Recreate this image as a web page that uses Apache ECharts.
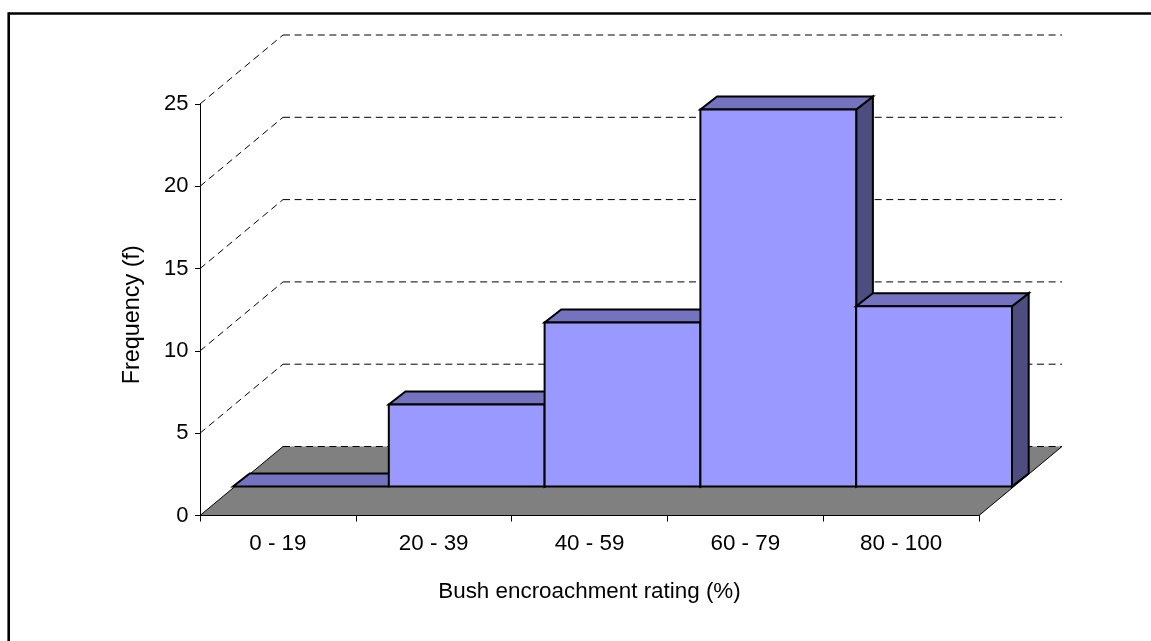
<!DOCTYPE html>
<html>
<head>
<meta charset="utf-8">
<script src="https://cdn.jsdelivr.net/npm/echarts@6/dist/echarts.min.js"></script>
<style>html,body{margin:0;padding:0;background:#fff}#c{width:1151px;height:641px}</style>
</head>
<body>
<div id="c"></div>
<script>
var categories = ['0 - 19', '20 - 39', '40 - 59', '60 - 79', '80 - 100'];
var frequency = [0, 5, 10, 23, 11];
var yTicks = [0, 5, 10, 15, 20, 25];
var xTitle = 'Bush encroachment rating (%)';
var yTitle = 'Frequency (f)';

var WALL = [83, -69];
var BAR_FRONT = [33, -29];
var BAR_DEPTH = [16.7, -13];
var BAR_SCALE = 0.996;
var FONT = '"Liberation Sans", Arial, sans-serif';

function poly(points, fill, stroke, width) {
  return { type: 'polygon', shape: { points: points },
    style: { fill: fill, stroke: stroke, lineWidth: width, lineJoin: 'miter' } };
}
function line(points, dash, width) {
  return { type: 'polyline', shape: { points: points },
    style: { fill: null, stroke: '#000', lineWidth: width || 1, lineDash: dash || null } };
}

function renderFloor(params, api) {
  var cs = params.coordSys, y = api.coord([0, 0])[1];
  var x0 = cs.x, x1 = cs.x + cs.width;
  var fl = [x0, y], fr = [x1, y];
  var bl = [x0 + WALL[0], y + WALL[1]], br = [x1 + WALL[0], y + WALL[1]];
  return { type: 'group', children: [
    poly([fl, fr, br, bl], '#808080', 'none', 0),
    line([bl, fl, fr, br], null, 1)
  ]};
}

function renderGrid(params, api) {
  var cs = params.coordSys, v = api.value(1), y = api.coord([0, v])[1];
  var x0 = cs.x, x1 = cs.x + cs.width;
  var dash = [7, 4.6];
  var kids = [line([[x0 + WALL[0], y + WALL[1]], [x1 + WALL[0], y + WALL[1]]], dash, 1)];
  if (v > 0) kids.push(line([[x0, y], [x0 + WALL[0], y + WALL[1]]], dash, 1));
  return { type: 'group', children: kids };
}

function renderBar(params, api) {
  var i = api.value(0), v = api.value(1);
  var band = api.size([1, 0])[0];
  var cx = api.coord([i, 0])[0];
  var y0 = api.coord([i, 0])[1];
  var yBase = y0 + BAR_FRONT[1];
  var yTop = yBase + (api.coord([i, v])[1] - y0) * BAR_SCALE;
  var xl = cx - band / 2 + BAR_FRONT[0], xr = xl + band;
  var dx = BAR_DEPTH[0], dy = BAR_DEPTH[1];
  var kids = [
    poly([[xr, yBase], [xr + dx, yBase + dy], [xr + dx, yTop + dy], [xr, yTop]], '#4d4d80', '#000', 2),
    poly([[xl, yTop], [xr, yTop], [xr + dx, yTop + dy], [xl + dx, yTop + dy]], '#7373bf', '#000', 2)
  ];
  if (v > 0) kids.push(poly([[xl, yBase], [xr, yBase], [xr, yTop], [xl, yTop]], '#9999ff', '#000', 2));
  return { type: 'group', children: kids };
}

var chart = echarts.init(document.getElementById('c'), null, { renderer: 'canvas' });
chart.setOption({
  animation: false,
  backgroundColor: '#fff',
  grid: { left: 200, top: 104, width: 779, height: 411.5, containLabel: false },
  xAxis: {
    type: 'category', data: categories, z: 6,
    boundaryGap: true,
    name: xTitle, nameLocation: 'middle', nameGap: 65.5,
    nameTextStyle: { color: '#000', fontFamily: FONT, fontSize: 22.4 },
    axisLine: { show: true, lineStyle: { color: '#000', width: 1 } },
    axisTick: { show: true, length: 6, lineStyle: { color: '#000', width: 1 } },
    axisLabel: { color: '#000', fontFamily: FONT, fontSize: 22.4, margin: 17.5 },
    splitLine: { show: false }
  },
  yAxis: {
    type: 'value', min: 0, max: 25, interval: 5, z: 6,
    name: yTitle, nameLocation: 'middle', nameGap: 56,
    nameTextStyle: { color: '#000', fontFamily: FONT, fontSize: 23.4, padding: [0, 10, 0, 0] },
    axisLine: { show: true, lineStyle: { color: '#000', width: 1 } },
    axisTick: { show: true, length: 5, lineStyle: { color: '#000', width: 1 } },
    axisLabel: { color: '#000', fontFamily: FONT, fontSize: 22, margin: 11.5 },
    splitLine: { show: false }
  },
  series: [
    { type: 'custom', z: 2, silent: true, clip: false, renderItem: renderFloor,
      data: [[0, yTicks[0]]], encode: { x: 0, y: 1 } },
    { type: 'custom', z: 3, silent: true, clip: false, renderItem: renderGrid,
      data: yTicks.map(function (t) { return [0, t]; }), encode: { x: 0, y: 1 } },
    { type: 'custom', z: 4, silent: true, clip: false, renderItem: renderBar,
      data: frequency.map(function (f, i) { return [i, f]; }), encode: { x: 0, y: 1 } }
  ],
  graphic: [
    { type: 'line', silent: true, shape: { x1: 8.7, y1: 13.5, x2: 1151, y2: 13.5 },
      style: { stroke: '#000', lineWidth: 2.6 } },
    { type: 'line', silent: true, shape: { x1: 8.7, y1: 12.2, x2: 8.7, y2: 641 },
      style: { stroke: '#000', lineWidth: 2.6 } }
  ]
});
</script>
</body>
</html>
